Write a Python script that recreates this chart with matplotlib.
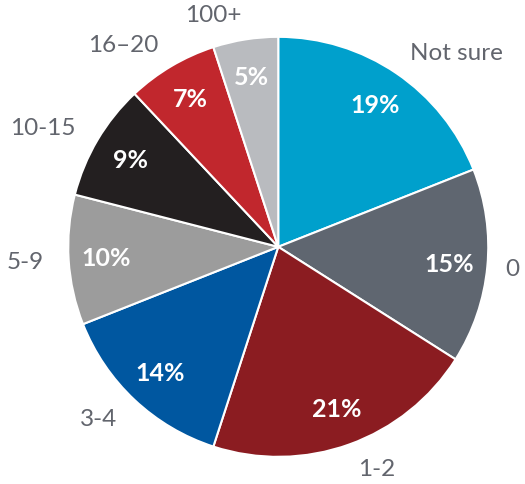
import matplotlib.pyplot as plt

categories = ['Not sure', '0', '1-2', '3-4', '5-9', '10-15', '16\u201320', '100+']
shares = [19, 15, 21, 14, 10, 9, 7, 5]
colors = ['#00a0cc', '#5f6670', '#8b1c21', '#0057a0', '#9c9c9c', '#231f20', '#c1272d', '#b9bbbf']

plt.rcParams['font.family'] = ['Lato', 'DejaVu Sans']

fig = plt.figure(figsize=(5.25, 4.85), dpi=100)
ax = fig.add_axes([0.13, 0.056, 0.8, 0.866])

wedges, texts, autotexts = ax.pie(
    shares, labels=categories, colors=colors, startangle=90, counterclock=False,
    autopct=lambda p: '%d%%' % round(p), pctdistance=0.82, labeldistance=1.12,
    wedgeprops=dict(edgecolor='white', linewidth=1.5),
    textprops=dict(fontsize=17.5, color='#62656d'))
# keep the short "0" label inside the canvas
texts[1].set_ha('center')
for t in autotexts:
    t.set_color('white')
    t.set_fontsize(18)
    t.set_fontweight('bold')
ax.set_xlim(-1, 1)
ax.set_ylim(-1, 1)
ax.set_aspect('equal')

fig.savefig('out.png', dpi=100)
